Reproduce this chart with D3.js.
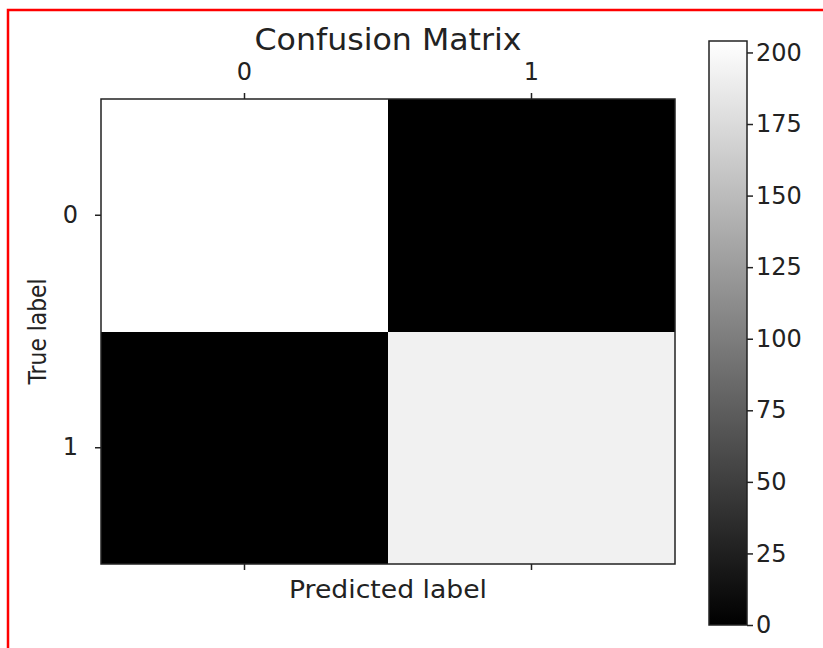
<!DOCTYPE html>
<html>
<head>
<meta charset="utf-8">
<script src="https://cdn.jsdelivr.net/npm/d3@7"></script>
<style>
    body { margin: 0; background: #fff; }
    text { font-family: "DejaVu Sans", sans-serif; fill: #222; }
</style>
</head>
<body>
<div id="chart"></div>
<script>
const classes = ["0", "1"];
// rows = true label, columns = predicted label
const matrixValues = [
    [204, 0],
    [0, 193]
];
const colorbarTicks = [0, 25, 50, 75, 100, 125, 150, 175, 200];
const colorMin = 0;
const colorMax = 204;

function renderConfusionMatrix(elementId) {
    const width = 823;
    const height = 648;
    const plot = { left: 101, right: 675, top: 99, bottom: 564 };
    const bar = { left: 709, right: 747, top: 41, bottom: 625 };

    d3.select(elementId).selectAll("*").remove();

    const svg = d3.select(elementId)
        .append("svg")
        .attr("width", width)
        .attr("height", height);

    svg.append("rect")
        .attr("width", width)
        .attr("height", height)
        .attr("fill", "#fff");

    // red frame round the picture (open to the right and bottom)
    svg.append("path")
        .attr("d", `M8,${height} L8,10 L${width},10`)
        .attr("fill", "none")
        .attr("stroke", "#f00")
        .attr("stroke-width", 2.5);

    const x = d3.scaleBand()
        .domain(classes)
        .range([plot.left, plot.right]);

    const y = d3.scaleBand()
        .domain(classes)
        .range([plot.top, plot.bottom]);

    const color = d3.scaleLinear()
        .domain([colorMin, colorMax])
        .range(["#000", "#fff"]);

    const cells = [];
    matrixValues.forEach((row, i) => {
        row.forEach((v, j) => cells.push({ row: classes[i], col: classes[j], value: v }));
    });

    // Cells
    svg.append("g")
        .selectAll("rect")
        .data(cells)
        .enter()
        .append("rect")
        .attr("x", d => x(d.col))
        .attr("y", d => y(d.row))
        .attr("width", x.bandwidth())
        .attr("height", y.bandwidth())
        .attr("fill", d => color(d.value))
        .attr("shape-rendering", "crispEdges");

    // Frame
    svg.append("rect")
        .attr("x", plot.left)
        .attr("y", plot.top)
        .attr("width", plot.right - plot.left)
        .attr("height", plot.bottom - plot.top)
        .attr("fill", "none")
        .attr("stroke", "#222")
        .attr("stroke-width", 1.5);

    // X axis on top with labels, bottom ticks only
    const xTop = svg.append("g")
        .attr("transform", `translate(0,${plot.top})`)
        .call(d3.axisTop(x).tickSize(6).tickPadding(13));
    const xBottom = svg.append("g")
        .attr("transform", `translate(0,${plot.bottom})`)
        .call(d3.axisBottom(x).tickSize(6).tickFormat(""));

    // Y axis
    const yLeft = svg.append("g")
        .attr("transform", `translate(${plot.left},0)`)
        .call(d3.axisLeft(y).tickSize(6).tickPadding(17));

    [xTop, xBottom, yLeft].forEach(g => {
        g.select(".domain").remove();
        g.selectAll("line").attr("stroke", "#222").attr("stroke-width", 1.5);
        g.selectAll("text").style("font-size", "24px").attr("fill", "#222");
    });

    // Title and axis labels
    svg.append("text")
        .attr("x", (plot.left + plot.right) / 2)
        .attr("y", 50)
        .attr("text-anchor", "middle")
        .style("font-size", "31px")
        .attr("textLength", 267)
        .attr("lengthAdjust", "spacingAndGlyphs")
        .text("Confusion Matrix");

    svg.append("text")
        .attr("x", (plot.left + plot.right) / 2)
        .attr("y", 598)
        .attr("text-anchor", "middle")
        .style("font-size", "24px")
        .attr("textLength", 198)
        .attr("lengthAdjust", "spacingAndGlyphs")
        .text("Predicted label");

    svg.append("text")
        .attr("transform", `translate(46,${(plot.top + plot.bottom) / 2}) rotate(-90)`)
        .attr("text-anchor", "middle")
        .style("font-size", "25px")
        .attr("textLength", 106)
        .attr("lengthAdjust", "spacingAndGlyphs")
        .text("True label");

    // Colorbar
    const c = d3.scaleLinear()
        .domain([colorMin, colorMax])
        .range([bar.bottom, bar.top]);

    const grad = svg.append("defs")
        .append("linearGradient")
        .attr("id", "cbar")
        .attr("x1", 0).attr("y1", 1)
        .attr("x2", 0).attr("y2", 0);
    grad.selectAll("stop")
        .data(color.domain())
        .enter()
        .append("stop")
        .attr("offset", (d, i) => i)
        .attr("stop-color", d => color(d));

    svg.append("rect")
        .attr("x", bar.left)
        .attr("y", bar.top)
        .attr("width", bar.right - bar.left)
        .attr("height", bar.bottom - bar.top)
        .attr("fill", "url(#cbar)")
        .attr("stroke", "#222")
        .attr("stroke-width", 1.5);

    const cAxis = svg.append("g")
        .attr("transform", `translate(${bar.right},0)`)
        .call(d3.axisRight(c).tickValues(colorbarTicks).tickSize(6).tickPadding(3));
    cAxis.select(".domain").remove();
    cAxis.selectAll("line").attr("stroke", "#222").attr("stroke-width", 1.5);
    cAxis.selectAll("text").style("font-size", "24px").attr("fill", "#222");
}

renderConfusionMatrix("#chart");
</script>
</body>
</html>
